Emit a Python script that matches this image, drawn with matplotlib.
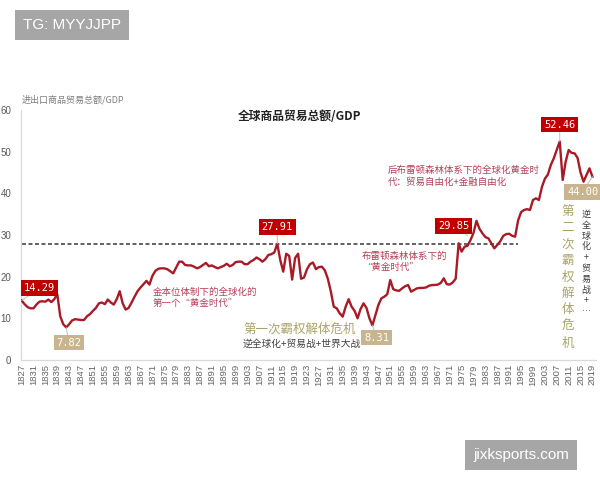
import matplotlib
matplotlib.use("Agg")
import matplotlib.pyplot as plt

plt.rcParams['font.family'] = ['Noto Sans CJK SC', 'DejaVu Sans']

years = list(range(1827, 2020))
values = [
    14.29, 13.4, 12.7, 12.4, 12.4, 13.3, 14.0, 14.1, 14.0, 14.5,   # 1827-1836
    13.9, 14.6, 15.8, 10.5, 8.6, 7.82, 8.6, 9.5, 9.8, 9.7,         # 1837-1846
    9.6, 9.6, 10.5, 11.0, 11.8, 12.5, 13.6, 13.8, 13.4, 14.5,      # 1847-1856
    13.8, 13.3, 14.6, 16.5, 13.6, 12.1, 12.5, 13.8, 15.2, 16.5,    # 1857-1866
    17.4, 18.2, 19.0, 18.1, 20.2, 21.4, 21.9, 22.0, 22.0, 21.8,    # 1867-1876
    21.3, 20.8, 22.2, 23.6, 23.6, 22.8, 22.7, 22.7, 22.4, 22.0,    # 1877-1886
    22.3, 22.8, 23.3, 22.5, 22.7, 22.3, 22.0, 22.3, 22.6, 23.1,    # 1887-1896
    22.5, 22.8, 23.5, 23.6, 23.6, 23.0, 23.0, 23.6, 24.0, 24.6,    # 1897-1906
    24.2, 23.6, 24.2, 25.2, 25.4, 25.8, 27.91, 24.0, 21.2, 25.5,   # 1907-1916
    25.0, 19.3, 24.5, 25.5, 19.5, 19.8, 21.8, 23.0, 23.4, 21.8,    # 1917-1926
    22.3, 22.4, 21.5, 19.5, 16.5, 12.8, 12.4, 11.2, 10.4, 12.8,    # 1927-1936
    14.6, 12.8, 11.8, 10.0, 12.2, 13.6, 12.5, 10.0, 8.31, 10.8,    # 1937-1946
    13.2, 14.8, 15.2, 15.8, 19.2, 17.0, 16.7, 16.6, 17.2, 17.7,    # 1947-1956
    18.0, 16.4, 16.8, 17.2, 17.3, 17.3, 17.4, 17.8, 18.0, 18.0,    # 1957-1966
    18.1, 18.5, 19.6, 18.2, 18.1, 18.6, 19.5, 28.0, 26.0, 27.2,    # 1967-1976
    27.4, 28.8, 30.5, 33.4, 31.5, 30.4, 29.5, 29.2, 28.0, 26.8,    # 1977-1986
    27.6, 28.5, 29.8, 30.2, 30.3, 29.8, 29.6, 33.5, 35.5, 36.0,    # 1987-1996
    36.2, 36.0, 38.4, 38.8, 38.4, 41.5, 43.5, 44.5, 46.8, 48.4,    # 1997-2006
    50.4, 52.46, 43.2, 47.6, 50.4, 49.7, 49.6, 48.5, 45.0, 42.8,   # 2007-2016
    44.4, 46.0, 44.00,                                             # 2017-2019
]
tick_years = list(range(1827, 2020, 4))
ref_level = 27.91

title = "全球商品贸易总额/GDP"
ylabel = "进出口商品贸易总额/GDP"

fig = plt.figure(figsize=(6, 4.8), dpi=100)
ax = fig.add_axes([21/600, 1-360/480, 575/600, 250/480])

line_color = '#a81b26'
ax.plot(years, values, color=line_color, lw=1.7, solid_joinstyle='round', zorder=3)
ax.hlines(ref_level, 1827, 1994, colors='#555555', linestyles=(0, (2.2, 1.4)), lw=1.3, zorder=2)

ax.set_xlim(1826.8, 2020.2)
ax.set_ylim(0, 60)
ax.set_yticks(range(0, 61, 10))
ax.set_xticks(tick_years)
ax.set_xticklabels([str(y) for y in tick_years], rotation=90, fontsize=6.8,
                   color='#666666', family='Liberation Sans')
for lab in ax.get_yticklabels():
    lab.set_fontsize(7)
    lab.set_color('#595959')
    lab.set_family('Liberation Sans')
ax.tick_params(axis='both', length=0, pad=3)
ax.tick_params(axis='y', pad=7)
for s in ['top', 'right']:
    ax.spines[s].set_visible(False)
for s in ['left', 'bottom']:
    ax.spines[s].set_color('#d9d9d9')
    ax.spines[s].set_linewidth(0.9)

def box_label(x, y, text, fc, dx, dy):
    ax.annotate(text, xy=(x, y), xytext=(dx, dy), textcoords='offset points',
                ha='center', va='center', fontsize=7.5, color='white',
                family='DejaVu Sans Mono',
                bbox=dict(boxstyle='square,pad=0.25', fc=fc, ec='none'),
                arrowprops=dict(arrowstyle='-', color='#bfbfbf', lw=0.7,
                                shrinkA=0, shrinkB=0),
                zorder=5)

# red boxes
box_label(1827, 14.29, "14.29", '#c00000', 13, 9)
box_label(1913, 27.91, "27.91", '#c00000', 0, 12)
box_label(1977, 29.85, "29.85", '#c00000', -10, 7)
box_label(2008, 52.46, "52.46", '#c00000', 0, 12)
# tan boxes
box_label(1842, 7.82, "7.82", '#c8b48e', 2, -11)
box_label(1945, 8.31, "8.31", '#c8b48e', 3, -9)
box_label(2019, 44.00, "44.00", '#c8b48e', -7, -11)

rose = '#b5405a'
olive = '#a9a46a'
grayt = '#404040'

fig.text(0.5, 1-117/480, title, ha='center', va='center', fontsize=8.5,
         fontweight='bold', color='#222222')
fig.text(22/600, 1-100/480, ylabel, ha='left', va='center', fontsize=6.5,
         color='#7f7f7f')

fig.text(153/600, 1-298/480, "金本位体制下的全球化的\n第一个“黄金时代”",
         ha='left', va='center', fontsize=6.8, color=rose, linespacing=1.3)
fig.text(243/600, 1-329/480, "第一次霸权解体危机", ha='left', va='center',
         fontsize=9, color=olive)
fig.text(243/600, 1-344/480, "逆全球化+贸易战+世界大战", ha='left', va='center',
         fontsize=7, color=grayt)
fig.text(362/600, 1-262/480, "布雷顿森林体系下的\n“黄金时代”", ha='left',
         va='center', fontsize=6.8, color=rose, linespacing=1.3)
fig.text(388/600, 1-176/480, "后布雷顿森林体系下的全球化黄金时\n代：贸易自由化+金融自由化",
         ha='left', va='center', fontsize=6.8, color=rose, linespacing=1.3)
fig.text(568/600, 1-277/480, "\n".join("第二次霸权解体危机"), ha='center',
         va='center', fontsize=9, color=olive, linespacing=1.35)
fig.text(586/600, 1-263/480, "\n".join(["逆", "全", "球", "化", "+", "贸", "易", "战", "+", "…"]),
         ha='center', va='center', fontsize=6.5, color=grayt, linespacing=1.25)

# watermarks
fig.text(72/600, 1-25/480, "TG: MYYJJPP", ha='center', va='center', fontsize=11,
         color='white', family='Liberation Sans',
         bbox=dict(boxstyle='square,pad=0.55', fc='#a6a6a6', ec='none'))
fig.text(521/600, 1-455/480, "jixksports.com", ha='center', va='center', fontsize=11,
         color='white', family='Liberation Sans',
         bbox=dict(boxstyle='square,pad=0.5', fc='#a6a6a6', ec='none'))

fig.savefig("out.png", dpi=100)
